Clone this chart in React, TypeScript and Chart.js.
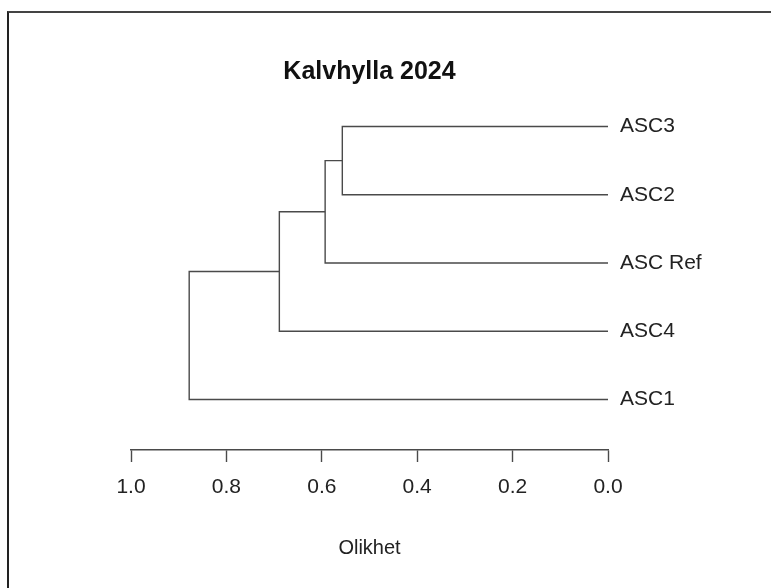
import React, { useEffect, useRef } from "react";
import { Chart, registerables } from "chart.js";

Chart.register(...registerables);

// Leaves, listed bottom to top as they appear in the dendrogram
const leafLabels = ["ASC1", "ASC4", "ASC Ref", "ASC2", "ASC3"];
// Merge steps (R-style): left child, right child, height (Olikhet)
const mergeLeft = ["ASC3", "m1", "m2", "m3"];
const mergeRight = ["ASC2", "ASC Ref", "ASC4", "ASC1"];
const mergeHeight = [0.557, 0.593, 0.689, 0.878];
const xTickValues = [1.0, 0.8, 0.6, 0.4, 0.2, 0.0];

const titleText = "Kalvhylla 2024";
const xTitleText = "Olikhet";

const FONT = "'Liberation Sans', Arial, Helvetica, sans-serif";
const LINE = "#4a4a4a";

function buildSegments() {
  const nodes: Record<string, { x: number; y: number }> = {};
  leafLabels.forEach((l, i) => (nodes[l] = { x: 0, y: i + 1 }));
  const datasets: any[] = [];
  mergeHeight.forEach((h, i) => {
    const a = nodes[mergeLeft[i]];
    const b = nodes[mergeRight[i]];
    datasets.push({
      data: [
        { x: a.x, y: a.y },
        { x: h, y: a.y },
        { x: h, y: b.y },
        { x: b.x, y: b.y },
      ],
      showLine: true,
      borderColor: LINE,
      borderWidth: 1.4,
      pointRadius: 0,
      fill: false,
      tension: 0,
    });
    nodes["m" + (i + 1)] = { x: h, y: (a.y + b.y) / 2 };
  });
  return datasets;
}

export default function App() {
  const ref = useRef<HTMLCanvasElement | null>(null);
  useEffect(() => {
    if (!ref.current) return;
    const chart = new Chart(ref.current, {
      type: "scatter",
      data: { datasets: buildSegments() },
      options: {
        animation: false,
        responsive: false,
        layout: { padding: { left: 131, right: 0, top: 0, bottom: 0 } },
        plugins: {
          legend: { display: false },
          tooltip: { enabled: false },
          title: {
            display: true,
            text: titleText,
            fullSize: false,
            color: "#111",
            font: { family: FONT, size: 25, weight: "bold" },
            padding: { top: 57, bottom: 6 },
          },
        },
        scales: {
          x: {
            type: "linear",
            reverse: true,
            min: 0,
            max: 1,
            afterBuildTicks: (s: any) => {
              s.ticks = xTickValues.map((v) => ({ value: v }));
            },
            afterFit: (s: any) => {
              s.height = 138;
            },
            grid: {
              drawOnChartArea: false,
              drawTicks: true,
              tickLength: 12,
              tickColor: LINE,
              tickWidth: 1.4,
            },
            border: { display: true, color: LINE, width: 1.4 },
            ticks: {
              color: "#222",
              padding: 13,
              maxRotation: 0,
              font: { family: FONT, size: 21 },
              callback: (v: any) => Number(v).toFixed(1),
            },
            title: {
              display: true,
              text: xTitleText,
              color: "#222",
              font: { family: FONT, size: 20 },
              padding: { top: 0, bottom: 28 },
            },
          },
          y: {
            type: "linear",
            position: "right",
            min: 0.26,
            max: 5.49,
            afterBuildTicks: (s: any) => {
              s.ticks = leafLabels.map((_, i) => ({ value: i + 1 }));
            },
            afterFit: (s: any) => {
              s.width = 163;
            },
            grid: { display: false, drawTicks: false },
            border: { display: false },
            ticks: {
              color: "#222",
              padding: 12,
              font: { family: FONT, size: 21 },
              callback: (v: any) => leafLabels[Math.round(Number(v)) - 1] ?? "",
            },
          },
        },
      },
    });
    return () => chart.destroy();
  }, []);

  return (
    <div
      style={{
        position: "fixed",
        left: 0,
        top: 0,
        width: 771,
        height: 588,
        background: "#fff",
        overflow: "hidden",
      }}
    >
      <div
        style={{
          position: "absolute",
          left: 7,
          top: 11,
          right: 0,
          bottom: 0,
          borderTop: "2px solid #444",
          borderLeft: "2px solid #222",
        }}
      />
      <canvas
        ref={ref}
        width={771}
        height={588}
        style={{ position: "absolute", left: 0, top: 0 }}
      />
    </div>
  );
}
